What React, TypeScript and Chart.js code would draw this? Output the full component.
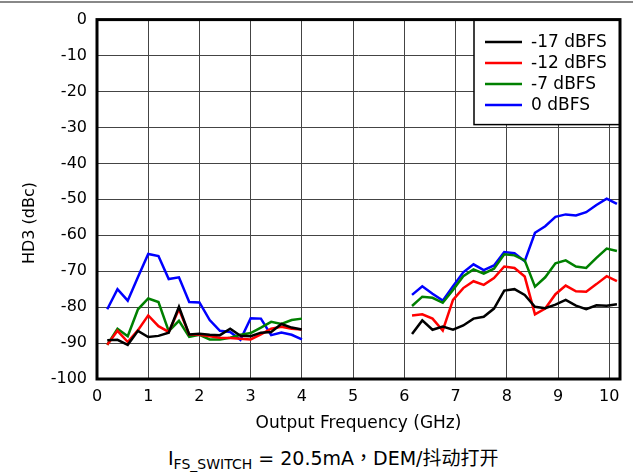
import React, { useEffect, useRef } from "react";
import { Chart, registerables } from "chart.js";

Chart.register(...registerables);

const seriesLabels = ["-17 dBFS", "-12 dBFS", "-7 dBFS", "0 dBFS"];
const seriesColors = ["#000000", "#ff0000", "#008000", "#0000ff"];

const xTickValues = [0, 1, 2, 3, 4, 5, 6, 7, 8, 9, 10];

const freqLow = [0.2, 0.4, 0.6, 0.8, 1.0, 1.2, 1.4, 1.6, 1.8, 2.0, 2.2, 2.4, 2.6, 2.8, 3.0, 3.2, 3.4, 3.6, 3.8, 4.0];
const freqHigh = [6.15, 6.35, 6.55, 6.75, 6.95, 7.15, 7.35, 7.55, 7.75, 7.95, 8.15, 8.35, 8.55, 8.75, 8.95, 9.15, 9.35, 9.55, 9.75, 9.95, 10.15];

const m17Low = [-89.2, -89.1, -90.5, -86.6, -88.3, -88.0, -87.1, -79.9, -87.6, -87.4, -87.7, -87.8, -86.0, -88.0, -88.1, -87.1, -86.9, -84.7, -85.7, -86.2];
const m12Low = [-90.5, -86.6, -89.7, -86.4, -82.3, -85.3, -86.9, -80.6, -87.6, -87.7, -88.1, -88.5, -88.6, -88.8, -89.0, -87.6, -86.0, -85.5, -86.0, -86.2];
const m7Low = [-90.5, -86.0, -88.1, -80.6, -77.6, -78.6, -86.7, -83.8, -88.3, -87.7, -89.0, -89.0, -88.5, -87.7, -87.2, -85.7, -84.1, -84.7, -83.6, -83.2];
const m0Low = [-80.6, -75.0, -78.2, -71.6, -65.2, -65.8, -72.2, -71.7, -78.6, -78.7, -83.6, -86.6, -86.9, -89.1, -83.1, -83.2, -87.8, -87.1, -87.7, -89.0];

const m17High = [-87.5, -83.7, -86.3, -85.4, -86.3, -85.1, -83.2, -82.7, -80.4, -75.4, -75.0, -76.6, -79.9, -80.3, -79.3, -78.0, -79.6, -80.6, -79.5, -79.6, -79.2];
const m12High = [-82.3, -82.0, -83.2, -86.5, -78.0, -74.7, -72.8, -73.8, -71.9, -68.7, -69.1, -71.5, -82.0, -80.4, -76.4, -74.0, -75.6, -75.7, -73.6, -71.4, -72.8];
const m7High = [-79.7, -77.1, -77.4, -78.8, -75.2, -71.4, -69.5, -70.7, -69.3, -65.3, -65.6, -67.0, -74.3, -71.7, -67.8, -67.0, -68.7, -69.1, -66.3, -63.7, -64.4];
const m0High = [-76.6, -74.2, -76.3, -78.2, -74.2, -70.3, -68.1, -69.7, -68.4, -64.7, -65.0, -67.2, -59.3, -57.5, -54.9, -54.2, -54.5, -53.6, -51.6, -49.8, -51.3];

const lowSeries = [m17Low, m12Low, m7Low, m0Low];
const highSeries = [m17High, m12High, m7High, m0High];

const xTitle = "Output Frequency (GHz)";
const yTitle = "HD3 (dBc)";
const FONT = "'DejaVu Sans', 'Liberation Sans', sans-serif";

export default function App() {
  const ref = useRef<HTMLCanvasElement | null>(null);

  useEffect(() => {
    if (!ref.current) return;
    const datasets = seriesLabels.map((label, i) => ({
      label,
      data: [
        ...freqLow.map((x, j) => ({ x, y: lowSeries[i][j] })),
        { x: 5, y: null as any },
        ...freqHigh.map((x, j) => ({ x, y: highSeries[i][j] })),
      ],
      borderColor: seriesColors[i],
      backgroundColor: seriesColors[i],
      borderWidth: 2.5,
      pointRadius: 0,
      tension: 0,
      spanGaps: false,
    }));

    const framePlugin = {
      id: "frame",
      afterDraw(chart: any) {
        const { ctx, chartArea: a } = chart;
        ctx.save();
        // legend box
        const lx = 474, ly = a.top, lw = a.right - 474, lh = 105;
        ctx.fillStyle = "#ffffff";
        ctx.fillRect(lx, ly, lw, lh);
        ctx.strokeStyle = "#000";
        ctx.lineWidth = 1.5;
        ctx.strokeRect(lx, ly, lw, lh);
        ctx.font = `17px ${FONT}`;
        ctx.textBaseline = "middle";
        ctx.textAlign = "left";
        seriesLabels.forEach((lab, i) => {
          const y = 42 + i * 21;
          ctx.strokeStyle = seriesColors[i];
          ctx.lineWidth = 2.5;
          ctx.beginPath();
          ctx.moveTo(485, y);
          ctx.lineTo(522, y);
          ctx.stroke();
          ctx.fillStyle = "#000";
          ctx.fillText(lab, 531, y + 1);
        });
        // frame
        ctx.strokeStyle = "#000";
        ctx.lineWidth = 3;
        ctx.strokeRect(a.left, a.top, a.right - a.left, a.bottom - a.top);
        // y title
        ctx.translate(30, 223);
        ctx.rotate(-Math.PI / 2);
        ctx.font = `16px ${FONT}`;
        ctx.textAlign = "center";
        ctx.textBaseline = "middle";
        ctx.fillStyle = "#000";
        ctx.fillText(yTitle, 0, 0);
        ctx.restore();
      },
    };

    const chart = new Chart(ref.current, {
      type: "line",
      data: { datasets },
      options: {
        animation: false,
        responsive: false,
        maintainAspectRatio: false,
        layout: { padding: { top: 19, right: 13, left: 0, bottom: 0 } },
        plugins: { legend: { display: false }, tooltip: { enabled: false } },
        scales: {
          x: {
            type: "linear",
            min: 0,
            max: 10.21,
            afterFit: (s: any) => { s.height = 61; },
            afterBuildTicks: (s: any) => { s.ticks = xTickValues.map((v) => ({ value: v })); },
            ticks: { stepSize: 1, color: "#000", padding: 8, font: { family: FONT, size: 16 } },
            grid: { color: "#444", lineWidth: 1, drawTicks: false },
            border: { display: false },
            title: { display: true, text: xTitle, color: "#000", padding: { top: 0, bottom: 6 }, font: { family: FONT, size: 17 } },
          },
          y: {
            min: -100,
            max: 0,
            afterFit: (s: any) => { s.width = 97; },
            ticks: { stepSize: 10, color: "#000", padding: 10, font: { family: FONT, size: 16 } },
            grid: { color: "#444", lineWidth: 1, drawTicks: false },
            border: { display: false },
            title: { display: false },
          },
        },
      },
      plugins: [framePlugin],
    });
    return () => chart.destroy();
  }, []);

  return (
    <div style={{ position: "fixed", left: 0, top: 0, width: 633, height: 474, background: "#fff", overflow: "hidden" }}>
      <div style={{ position: "absolute", left: 0, top: 1, width: 633, height: 2, background: "#888" }} />
      <canvas ref={ref} width={633} height={440} style={{ position: "absolute", left: 0, top: 0, width: 633, height: 440 }} />
      <div
        style={{
          position: "absolute",
          left: 168,
          top: 449,
          fontSize: 19,
          lineHeight: "19px",
          whiteSpace: "nowrap",
          color: "#000",
          fontFamily: "'DejaVu Sans', 'Noto Sans CJK TC', sans-serif",
        }}
      >
        I<span style={{ fontSize: 14, position: "relative", top: 4 }}>FS_SWITCH</span> = 20.5mA，DEM/抖动打开
      </div>
    </div>
  );
}
